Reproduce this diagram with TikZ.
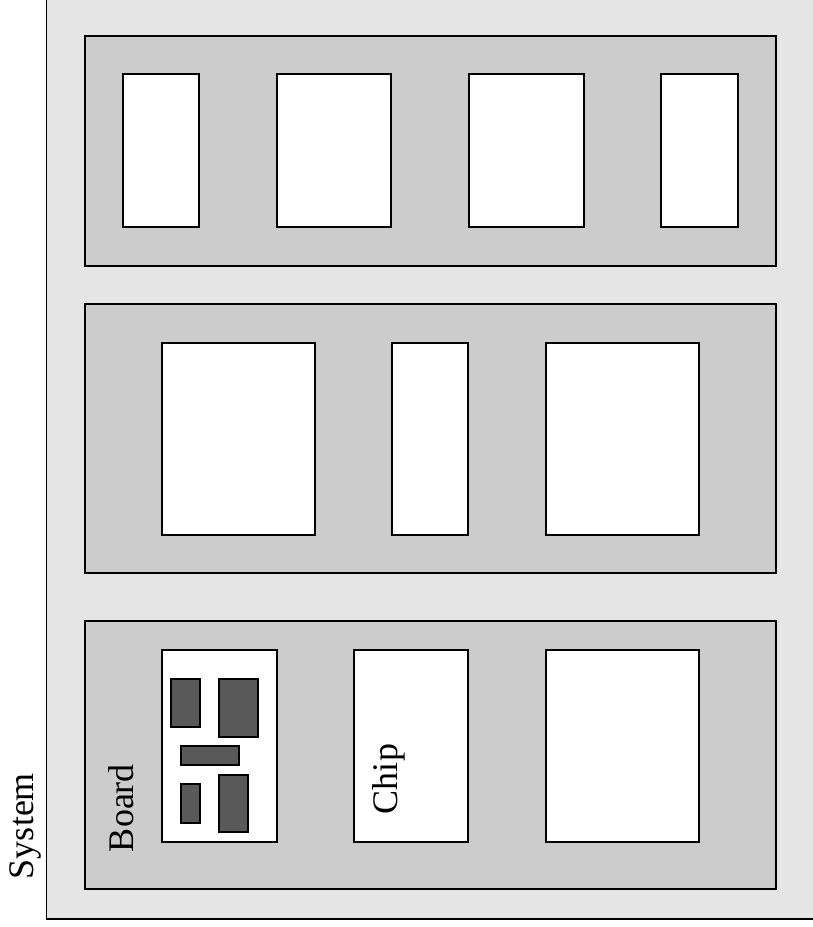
\documentclass[tikz,border=0pt]{standalone}
\usepackage{fontspec}
\setmainfont{Liberation Serif}
\usetikzlibrary{positioning}
\definecolor{sysgray}{HTML}{E5E5E5}
\definecolor{boardgray}{HTML}{CCCCCC}
\definecolor{partgray}{HTML}{595959}

\begin{document}
\begin{tikzpicture}[
    x=1pt, y=-1pt,
    box/.style={draw, line width=1.6pt, inner sep=0pt, outer sep=0pt},
    boardbox/.style={box, fill=boardgray, minimum width=691pt},
    chipbox/.style={box, fill=white},
    partbox/.style={box, line width=1.3pt, fill=partgray},
    lbl/.style={font=\fontsize{36}{40}\selectfont, rotate=90, inner sep=0pt}
]
\useasboundingbox (0,0) rectangle (812,927);

% --- System (runs off the page at top and right) ---
\fill[sysgray] (46.5,-5) rectangle (820,919);
\draw[line width=1.3pt] (46.5,-5) |- (820,919);
\node[lbl] (system) at (25,826) {System};

% --- Boards ---
\node[boardbox, minimum height=230pt] (board1) at (430.5,151) {};
\node[boardbox, minimum height=269pt] (board2) at (430.5,438.5) {};
\node[boardbox, minimum height=268pt] (board3) at (430.5,755) {};

% top board
\node[chipbox, minimum width=76pt,  minimum height=153pt] (t1) at (161,150.5) {};
\node[chipbox, minimum width=114pt, minimum height=153pt] (t2) at (334,150.5) {};
\node[chipbox, minimum width=115pt, minimum height=153pt] (t3) at (526.5,150.5) {};
\node[chipbox, minimum width=77pt,  minimum height=153pt] (t4) at (699.5,150.5) {};

% middle board
\node[chipbox, minimum width=153pt, minimum height=192pt] (m1) at (238.5,439) {};
\node[chipbox, minimum width=76pt,  minimum height=192pt] (m2) at (430,439) {};
\node[chipbox, minimum width=153pt, minimum height=192pt] (m3) at (622.5,439) {};

% bottom board
\node[chipbox, minimum width=115pt, minimum height=192pt] (b1) at (219.5,746) {};
\node[chipbox, minimum width=114pt, minimum height=192pt] (b2) at (411,746) {};
\node[chipbox, minimum width=153pt, minimum height=192pt] (b3) at (622.5,746) {};

% parts on the first chip
\node[partbox, minimum width=29pt, minimum height=48pt] (p1) at (185.5,703) {};
\node[partbox, minimum width=39pt, minimum height=58pt] (p2) at (238.5,708) {};
\node[partbox, minimum width=58pt, minimum height=19pt] (p3) at (210,755.5) {};
\node[partbox, minimum width=19pt, minimum height=39pt] (p4) at (190.5,803.5) {};
\node[partbox, minimum width=29pt, minimum height=57pt] (p5) at (233.5,803.5) {};

\node[lbl] (boardlbl) at (121,808) {Board};
\node[lbl] (chiplbl) at (389,779) {Chip};

\end{tikzpicture}
\end{document}
